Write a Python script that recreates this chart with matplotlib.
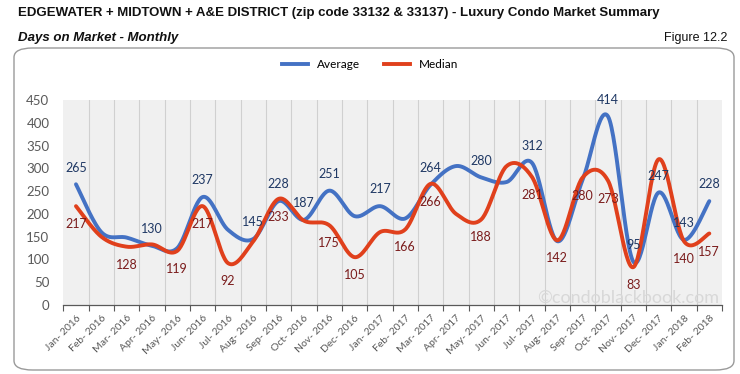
import numpy as np
import matplotlib
matplotlib.use("Agg")
import matplotlib.pyplot as plt
from matplotlib.patches import FancyBboxPatch
from matplotlib.lines import Line2D

# months shown on the x axis
months = ["Jan- 2016", "Feb- 2016", "Mar- 2016", "Apr- 2016", "May- 2016", "Jun- 2016",
          "Jul- 2016", "Aug- 2016", "Sep- 2016", "Oct- 2016", "Nov- 2016", "Dec- 2016",
          "Jan- 2017", "Feb- 2017", "Mar- 2017", "Apr- 2017", "May- 2017", "Jun- 2017",
          "Jul- 2017", "Aug- 2017", "Sep- 2017", "Oct- 2017", "Nov- 2017", "Dec- 2017",
          "Jan- 2018", "Feb- 2018"]

average = [265, 160, 148, 130, 125, 237, 165, 145, 228, 187, 251, 195,
           217, 190, 264, 305, 280, 270, 312, 140, 275, 414, 95, 247, 143, 228]
median = [217, 150, 128, 133, 119, 217, 92, 140, 233, 185, 175, 105,
          160, 166, 266, 200, 188, 305, 281, 142, 280, 273, 83, 320, 140, 157]

# which points carry a value label in the reference
avg_labeled = [0, 3, 5, 7, 8, 9, 10, 12, 14, 16, 18, 21, 22, 23, 24, 25]
med_labeled = [0, 2, 4, 5, 6, 8, 10, 11, 13, 14, 16, 18, 19, 20, 21, 22, 24, 25]

yticks = [0, 50, 100, 150, 200, 250, 300, 350, 400, 450]

BLUE = "#4472C4"
RED = "#E0401C"
AVG_TXT = "#1F3864"
MED_TXT = "#7A1B1B"
GRAY_TXT = "#595959"


def smooth(xs, ys, n=30):
    # Excel-like smoothed line (Catmull-Rom as cubic Bezier)
    p = np.column_stack([xs, ys]).astype(float)
    out = []
    for i in range(len(p) - 1):
        p0 = p[i - 1] if i > 0 else p[i]
        p3 = p[i + 2] if i + 2 < len(p) else p[i + 1]
        c1 = p[i] + (p[i + 1] - p0) / 6.0
        c2 = p[i + 1] - (p3 - p[i]) / 6.0
        t = np.linspace(0, 1, n)[:, None]
        seg = ((1 - t) ** 3) * p[i] + 3 * ((1 - t) ** 2) * t * c1 + 3 * (1 - t) * t ** 2 * c2 + t ** 3 * p[i + 1]
        out.append(seg if i == 0 else seg[1:])
    out = np.vstack(out)
    return out[:, 0], out[:, 1]


fig = plt.figure(figsize=(7.4, 3.74), dpi=100)

title_font = ["Liberation Sans Narrow", "Liberation Sans", "DejaVu Sans"]
fig.text(18 / 740, 1 - 13 / 374, "EDGEWATER + MIDTOWN + A&E DISTRICT (zip code 33132 & 33137) - Luxury Condo Market Summary",
         fontsize=9.5, fontweight="bold", family=title_font, va="center", ha="left", color="#111111")
fig.text(18 / 740, 1 - 38 / 374, "Days on Market - Monthly", fontsize=9.5, fontweight="bold",
         fontstyle="italic", family=title_font, va="center", ha="left", color="#111111")
fig.text(727 / 740, 1 - 38 / 374, "Figure 12.2", fontsize=9, family=title_font,
         va="center", ha="right", color="#111111")

# rounded frame around the chart
frame = FancyBboxPatch((14 / 740, 4 / 374), 720 / 740, 322 / 374,
                       boxstyle="round,pad=0,rounding_size=0.025", transform=fig.transFigure,
                       facecolor="white", edgecolor="#9A9A9A", linewidth=1.0, zorder=-1)
fig.patches.append(frame)

ax = fig.add_axes([63.3 / 740, 69 / 374, 658.7 / 740, 205 / 374])
ax.set_zorder(2)
ax.set_facecolor("#F0F0F0")
x = np.arange(len(months))

for k in range(len(months) - 1):
    ax.axvline(k + 0.5, color="#D0D0D0", lw=0.8, zorder=1)

sx, sy = smooth(x, average)
ax.plot(sx, sy, color=BLUE, lw=2.8, solid_capstyle="round", zorder=3)
sx, sy = smooth(x, median)
ax.plot(sx, sy, color=RED, lw=2.8, solid_capstyle="round", zorder=4)

lab_font = ["Lato", "DejaVu Sans"]
for i in avg_labeled:
    ax.annotate(str(average[i]), (x[i], average[i]), xytext=(0, 12), textcoords="offset points",
                ha="center", va="center", fontsize=9, color=AVG_TXT, family=lab_font, zorder=5)
for i in med_labeled:
    ax.annotate(str(median[i]), (x[i], median[i]), xytext=(0, -13), textcoords="offset points",
                ha="center", va="center", fontsize=9, color=MED_TXT, family=lab_font, zorder=5)

ax.text(0.995, -0.005, "\u00a9condoblackbook.com", transform=ax.transAxes, ha="right", va="bottom",
        fontsize=13, color="#D8D8D8", family=lab_font, zorder=2)

ax.set_xlim(-0.5, len(months) - 0.5)
ax.set_ylim(0, 450)
ax.set_yticks(yticks)
ax.set_yticklabels([str(v) for v in yticks], fontsize=9.5, color=GRAY_TXT, family=lab_font)
ax.tick_params(axis="y", length=0, pad=10)

ax.set_xticks(x)
ax.set_xticklabels(months, rotation=45, ha="right", rotation_mode="anchor",
                   fontsize=7.5, color=GRAY_TXT, family=lab_font)
ax.tick_params(axis="x", length=0, pad=6)
ax.set_xticks(np.arange(len(months) + 1) - 0.5, minor=True)
ax.tick_params(axis="x", which="minor", length=4, color="#595959", width=0.8)

for side in ["top", "right", "left"]:
    ax.spines[side].set_visible(False)
ax.spines["bottom"].set_color("#595959")
ax.spines["bottom"].set_linewidth(0.9)

handles = [Line2D([], [], color=BLUE, lw=2.8), Line2D([], [], color=RED, lw=2.8)]
fig.legend(handles, ["Average", "Median"], loc="center", bbox_to_anchor=(370 / 740, 1 - 65 / 374),
           ncol=2, frameon=False, handlelength=2.2, columnspacing=2.0,
           prop={"family": lab_font, "size": 8.5})

fig.savefig("out.png", dpi=100)
